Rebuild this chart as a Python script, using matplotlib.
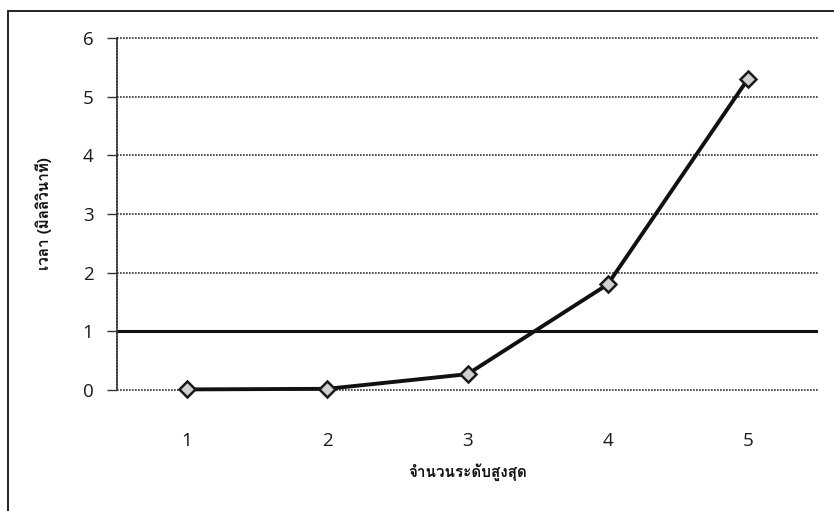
import matplotlib
matplotlib.use("Agg")
import matplotlib.pyplot as plt
from matplotlib import font_manager
from matplotlib.ft2font import FT2Font
from matplotlib.patches import Rectangle

categories = ["1", "2", "3", "4", "5"]
times_ms = [0.01, 0.02, 0.27, 1.80, 5.30]
y_ticks = [0, 1, 2, 3, 4, 5, 6]
x_title = "จำนวนระดับสูงสุด"
y_title = "เวลา (มิลลิวินาที)"

# find a font with Thai glyphs
thai_family = None
for f in font_manager.fontManager.ttflist:
    try:
        cm = FT2Font(f.fname).get_charmap()
        if 0x0E01 in cm and 0x0E32 in cm:
            thai_family = f.name
            break
    except Exception:
        pass
fams = ([thai_family] if thai_family else []) + ["DejaVu Sans"]

fig = plt.figure(figsize=(8.34, 5.11), dpi=100)
W, H = 834, 511
# outer chart border (scanned frame)
fig.patches.append(Rectangle((8 / W, -0.05), 1.2, 1 - 11 / H + 0.05,
                             transform=fig.transFigure, fill=False,
                             edgecolor="#222222", lw=1.4))

ax = fig.add_axes([117 / W, 1 - 390 / H, (818 - 117) / W, (390 - 38) / H])
x = list(range(1, len(categories) + 1))

ax.set_ylim(0, 6)
ax.set_xlim(0.5, len(categories) + 0.5)
ax.set_yticks(y_ticks)
ax.set_yticklabels([str(v) for v in y_ticks], fontsize=13.5, color="#1a1a1a",
                   family=["Open Sans", "DejaVu Sans"])
ax.set_xticks(x)
ax.set_xticklabels(categories, fontsize=13.5, color="#1a1a1a",
                   family=["Open Sans", "DejaVu Sans"])
ax.tick_params(axis="y", length=7, width=1.0, color="#333333", pad=10)
ax.tick_params(axis="x", length=0, pad=30)

for gl in ax.get_ygridlines():
    gl.set_clip_on(False)
ax.grid(axis="y", linestyle=(0, (1, 0.8)), color="#333333", lw=1.2)
for gl in ax.get_ygridlines():
    gl.set_clip_on(False)
ax.axhline(1, color="#111111", lw=2.2, zorder=2)
for s in ["top", "right", "bottom"]:
    ax.spines[s].set_visible(False)
ax.spines["left"].set_linestyle((0, (1, 0.8)))
ax.spines["left"].set_color("#333333")
ax.spines["left"].set_linewidth(1.2)
ax.set_axisbelow(True)

ax.plot(x, times_ms, color="#111111", lw=2.8, marker="D", markersize=8,
        markerfacecolor="#d0d0d0", markeredgecolor="#1a1a1a",
        markeredgewidth=1.8, zorder=3, clip_on=False)

ax.set_xlabel(x_title, fontsize=11, fontweight="bold", family=fams,
              labelpad=10, color="#111111")
ax.set_ylabel(y_title, fontsize=11, fontweight="bold", family=fams,
              labelpad=22, color="#111111")

fig.savefig("out.png", dpi=100)
